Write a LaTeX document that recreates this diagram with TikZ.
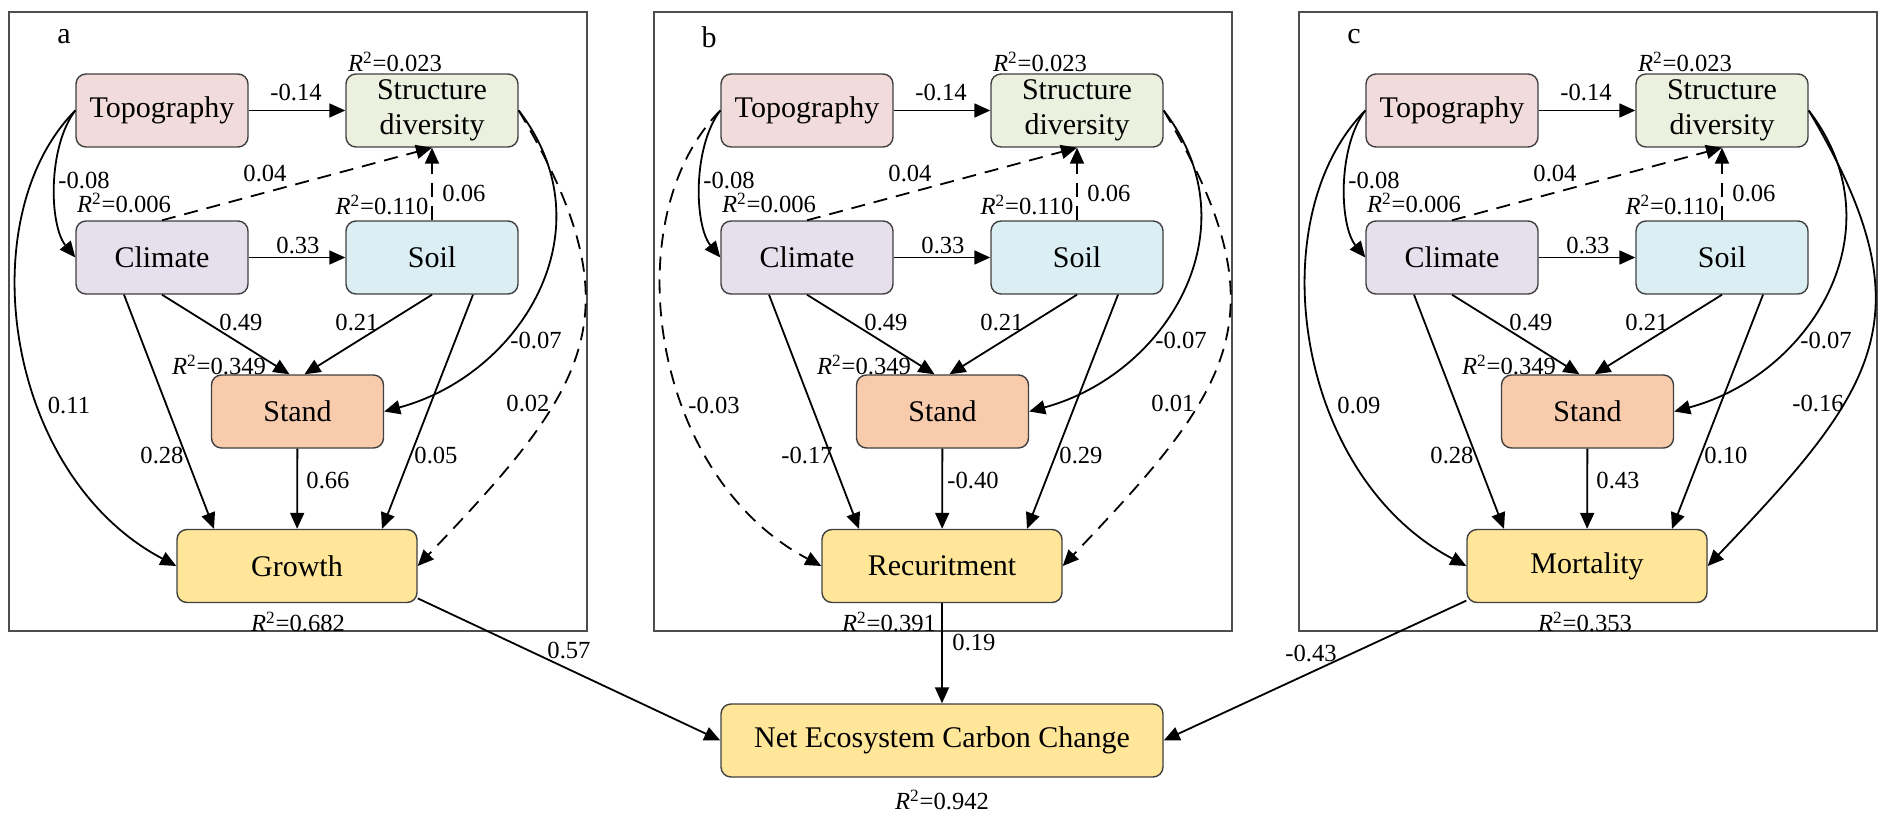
\documentclass[tikz,border=0pt]{standalone}
\usepackage{fontspec}
\setmainfont{Liberation Serif}
\usetikzlibrary{arrows.meta}
\definecolor{cTopo}{HTML}{F2DCDB}
\definecolor{cSD}{HTML}{EBF1DE}
\definecolor{cClim}{HTML}{E6E0EC}
\definecolor{cSoil}{HTML}{DAEEF3}
\definecolor{cStand}{HTML}{F8CBAD}
\definecolor{cOut}{HTML}{FFE699}
\definecolor{cBorder}{HTML}{404040}
\definecolor{cFrame}{HTML}{4D4D4D}
\tikzset{
 box/.style={draw=cBorder, line width=0.7pt, rounded corners=5pt, minimum width=86pt, minimum height=36.5pt, inner sep=0pt, align=center, font=\fontsize{15}{17.5}\selectfont},
 arr/.style={-{Triangle[length=8pt,width=7pt]}, line width=0.9pt},
 dsh/.style={arr, dash pattern=on 7pt off 4.5pt},
 lab/.style={font=\fontsize{12.3}{14}\selectfont, inner sep=0pt},
 panelframe/.style={draw=cFrame, line width=0.8pt},
 letter/.style={font=\fontsize{15}{17}\selectfont, inner sep=0pt},
}
\newcommand{\Rsq}[1]{\textit{R}\textsuperscript{2}=#1}
% #1 prefix, #2 letter, #3 outcome text, #4 outcome R2, #5 x of outcome R2 label
\newcommand{\drawpanel}[5]{%
 \draw[panelframe] (9,12) rectangle (587,631);
 \node[letter] (#1let) at (64,37) {#2};
 \node[box, fill=cTopo] (#1topo) at (162,110.5) {Topography};
 \node[box, fill=cSD] (#1sd) at (432,110.5) {Structure\\diversity};
 \node[box, fill=cClim] (#1clim) at (162,257.5) {Climate};
 \node[box, fill=cSoil] (#1soil) at (432,257.5) {Soil};
 \node[box, fill=cStand] (#1stand) at (297.5,411.5) {Stand};
 \node[box, fill=cOut, minimum width=120pt] (#1out) at (297,566) {#3};
 \node[lab] (#1rsd) at (395,62) {\Rsq{0.023}};
 \node[lab] (#1rclim) at (124,203) {\Rsq{0.006}};
 \node[lab] (#1rsoil) at (382,205) {\Rsq{0.110}};
 \node[lab] (#1rstand) at (219,365) {\Rsq{0.349}};
 \node[lab] (#1rout) at (#5,622) {\Rsq{#4}};
 \draw[arr] (#1topo) -- (#1sd);
 \draw[arr] (#1topo.west) .. controls +(-28,37) and +(-26,-32) .. (#1clim.west);
 \draw[dsh] (#1clim.north) -- (#1sd.south);
 \draw[dsh] (#1soil.north) -- (#1sd.south);
 \draw[arr] (#1clim) -- (#1soil);
 \draw[arr] (#1clim.south) -- ([xshift=-4pt]#1stand.north);
 \draw[arr] (#1soil.south) -- ([xshift=3.5pt]#1stand.north);
 \draw[arr] (#1sd.east) .. controls +(92,119.5) and +(136,-36.5) .. (#1stand.east);
 \node[lab] (#1l1) at (296,92) {-0.14};
 \node[lab] (#1l2) at (84,180) {-0.08};
 \node[lab] (#1l3) at (265,173) {0.04};
 \node[lab] (#1l4) at (464,193) {0.06};
 \node[lab] (#1l5) at (298,245) {0.33};
 \node[lab] (#1l6) at (241,322) {0.49};
 \node[lab] (#1l7) at (357,322) {0.21};
 \node[lab] (#1l8) at (536,340) {-0.07};
}
% #1 prefix, #2 topo style, #3 sd style, #4..#8 labels
\newcommand{\drawoutedges}[8]{%
 \draw[#2] (#1topo.west) .. controls +(-106,107) and +(-172,-91) .. (#1out.west);
 \draw[arr] ([xshift=-19pt]#1clim.south) -- ([xshift=-41.5pt]#1out.north);
 \draw[arr] (#1stand) -- (#1out);
 \draw[arr] ([xshift=20.5pt]#1soil.south) -- ([xshift=42.5pt]#1out.north);
 \draw[#3] (#1sd.east) .. controls +(122,205.5) and +(170,-178) .. (#1out.east);
 \node[lab] (#1m1) at (69,405) {#4};
 \node[lab] (#1m2) at (162,455) {#5};
 \node[lab] (#1m3) at (328,480) {#6};
 \node[lab] (#1m4) at (436,455) {#7};
 \node[lab] (#1m5) at (528,403) {#8};
}
\begin{document}
\begin{tikzpicture}[x=0.5pt,y=-0.5pt]
\useasboundingbox (0,0) rectangle (1890,813);
\begin{scope}
 \drawpanel{a}{a}{Growth}{0.682}{298}
 \drawoutedges{a}{arr}{dsh}{0.11}{0.28}{0.66}{0.05}{0.02}
\end{scope}
\begin{scope}[shift={(645,0)}]
 \drawpanel{b}{b}{Recuritment}{0.391}{244}
 \drawoutedges{b}{dsh}{dsh}{-0.03}{-0.17}{-0.40}{0.29}{0.01}
\end{scope}
\begin{scope}[shift={(1290,0)}]
 \drawpanel{c}{c}{Mortality}{0.353}{295}
 \drawoutedges{c}{arr}{arr}{0.09}{0.28}{0.43}{0.10}{-0.16}
\end{scope}
\node[box, fill=cOut, minimum width=221pt] (net) at (942,740.5) {Net Ecosystem Carbon Change};
\node[lab] (rnet) at (942,800) {\Rsq{0.942}};
\draw[arr] (aout.-15) -- (net.west);
\draw[arr] (bout.south) -- (net.north);
\draw[arr] (cout.196) -- (net.east);
\node[lab] (n1) at (569,650) {0.57};
\node[lab] (n2) at (974,642) {0.19};
\node[lab] (n3) at (1311,653) {-0.43};
\end{tikzpicture}
\end{document}
